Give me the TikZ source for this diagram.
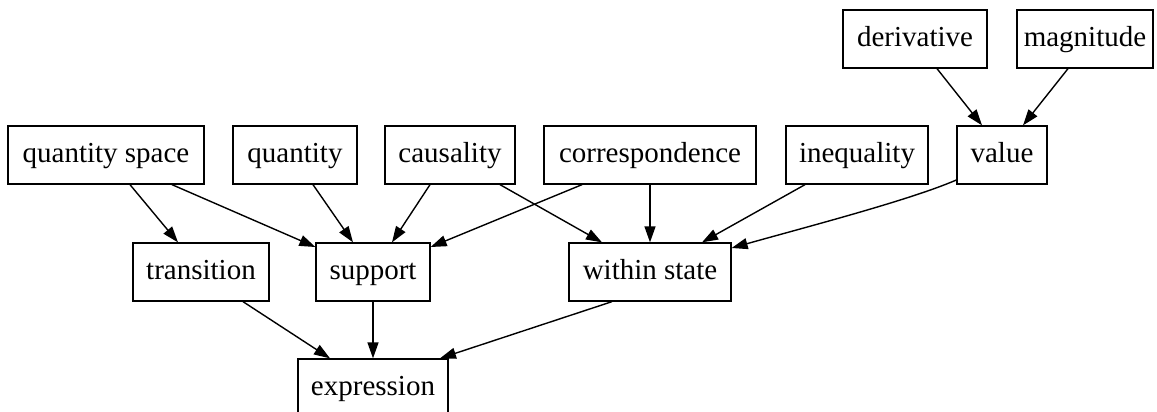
\documentclass[tikz,border=0pt]{standalone}
\usepackage{fontspec}
\setmainfont{Liberation Serif}
\usetikzlibrary{arrows.meta}
\begin{document}
\begin{tikzpicture}[x=1pt,y=-1pt,
  box/.style={draw,line width=1.3pt,rectangle,inner sep=0pt,minimum height=58pt,text height=21.5pt,text depth=5.8pt,font=\fontsize{29}{33}\selectfont},
  e/.style={line width=1.4pt,-{Triangle[length=16pt,width=11pt]}}]
\useasboundingbox (0,0) rectangle (1157,412);
\node[box,minimum width=196pt] (qs)  at (106,155) {quantity space};
\node[box,minimum width=124pt] (qu)  at (295,155) {quantity};
\node[box,minimum width=130pt] (ca)  at (450,155) {causality};
\node[box,minimum width=212pt] (co)  at (650,155) {correspondence};
\node[box,minimum width=142pt] (in)  at (857,155) {inequality};
\node[box,minimum width=90pt]  (va)  at (1002,155) {value};
\node[box,minimum width=144pt] (de)  at (915,39) {derivative};
\node[box,minimum width=136pt] (ma)  at (1085,39) {magnitude};
\node[box,minimum width=136pt] (tr)  at (201,272) {transition};
\node[box,minimum width=114pt] (sp)  at (373,272) {support};
\node[box,minimum width=162pt] (ws)  at (650,272) {within state};
\node[box,minimum width=150pt] (ex)  at (373,388) {expression};
\draw[e] (de.south -| 937,0) -- (va.north -| 982,0);
\draw[e] (ma.south -| 1068,0) -- (va.north -| 1023,0);
\draw[e] (qs.south -| 130,0) -- (tr.north -| 178,0);
\draw[e] (qs.south -| 172,0) -- (sp.west |- 0,247);
\draw[e] (qu.south -| 313,0) -- (sp.north -| 353,0);
\draw[e] (ca.south -| 430,0) -- (sp.north -| 392,0);
\draw[e] (co.south -| 582,0) -- (sp.east |- 0,247);
\draw[e] (ca.south -| 500,0) -- (ws.north -| 602,0);
\draw[e] (co.south) -- (ws.north);
\draw[e] (in.south -| 805,0) -- (ws.north -| 702,0);
\draw[e] (va.west |- 0,180) .. controls (910,200) and (810,226) .. (ws.east |- 0,248);
\draw[e] (tr.south -| 243,0) -- (ex.north -| 330,0);
\draw[e] (sp.south) -- (ex.north);
\draw[e] (ws.south -| 612,0) -- (ex.north -| 440,0);
\end{tikzpicture}
\end{document}
